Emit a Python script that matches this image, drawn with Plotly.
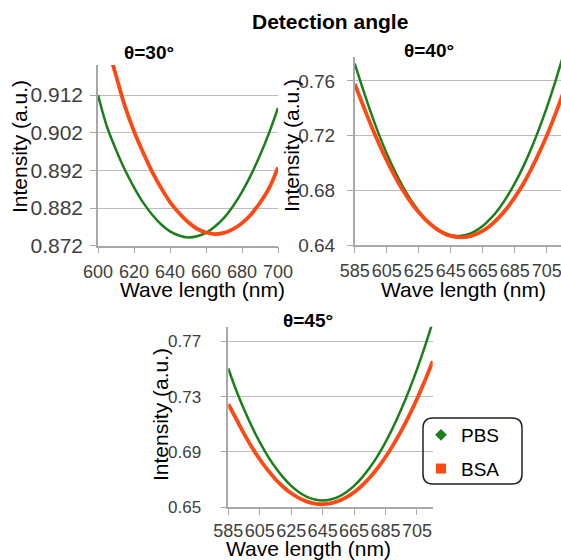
import plotly.graph_objects as go

# ---------------- data ----------------
# θ = 30°
wl30_pbs = [600, 605, 610, 615, 620, 625, 630, 635, 640, 645, 650, 655, 660, 665, 670, 675, 680, 685, 690, 695, 700]
int30_pbs = [0.9120, 0.9036, 0.8975, 0.8921, 0.8875, 0.8835, 0.8803, 0.8777, 0.8758, 0.8747, 0.8742,
             0.8745, 0.8754, 0.8771, 0.8794, 0.8825, 0.8863, 0.8908, 0.8960, 0.9019, 0.9086]
wl30_bsa = [608, 610, 615, 620, 625, 630, 635, 640, 645, 650, 655, 660, 665, 670, 675, 680, 685, 690, 695, 700]
int30_bsa = [0.9205, 0.9172, 0.9090, 0.9024, 0.8968, 0.8917, 0.8874, 0.8836, 0.8807, 0.8783, 0.8765,
             0.8755, 0.8751, 0.8754, 0.8764, 0.8780, 0.8803, 0.8834, 0.8872, 0.8928]

# θ = 40°
wl40 = [585, 590, 595, 600, 605, 610, 615, 620, 625, 630, 635, 640, 645, 650, 655,
        660, 665, 670, 675, 680, 685, 690, 695, 700, 705, 710, 715]
int40_pbs = [0.7727, 0.7546, 0.7372, 0.7213, 0.7070, 0.6942, 0.6829, 0.6731, 0.6649, 0.6582, 0.6530,
             0.6494, 0.6472, 0.6466, 0.6475, 0.6500, 0.6539, 0.6594, 0.6664, 0.6750, 0.6850, 0.6966,
             0.7097, 0.7244, 0.7405, 0.7582, 0.7775]
int40_bsa = [0.7578, 0.7428, 0.7282, 0.7146, 0.7018, 0.6904, 0.6802, 0.6714, 0.6639, 0.6576, 0.6527,
             0.6490, 0.6467, 0.6457, 0.6459, 0.6475, 0.6503, 0.6545, 0.6600, 0.6667, 0.6748, 0.6841,
             0.6948, 0.7068, 0.7200, 0.7346, 0.7504]

# θ = 45°
wl45 = [585, 590, 595, 600, 605, 610, 615, 620, 625, 630, 635, 640, 645, 650, 655,
        660, 665, 670, 675, 680, 685, 690, 695, 700, 705, 710, 715]
int45_pbs = [0.7503, 0.7346, 0.7208, 0.7083, 0.6971, 0.6872, 0.6787, 0.6714, 0.6655, 0.6609, 0.6576,
             0.6557, 0.6550, 0.6557, 0.6576, 0.6609, 0.6655, 0.6714, 0.6787, 0.6872, 0.6971, 0.7083,
             0.7208, 0.7346, 0.7497, 0.7661, 0.7839]
int45_bsa = [0.7245, 0.7140, 0.7032, 0.6934, 0.6847, 0.6770, 0.6703, 0.6647, 0.6601, 0.6566, 0.6541,
             0.6526, 0.6522, 0.6528, 0.6545, 0.6572, 0.6609, 0.6657, 0.6715, 0.6784, 0.6863, 0.6953,
             0.7052, 0.7163, 0.7283, 0.7414, 0.7556]

x_ticks_30 = [600, 620, 640, 660, 680, 700]
y_ticks_30 = [0.872, 0.882, 0.892, 0.902, 0.912]
x_ticks_wide = [585, 605, 625, 645, 665, 685, 705]
y_ticks_40 = [0.64, 0.68, 0.72, 0.76]
y_ticks_45 = [0.65, 0.69, 0.73, 0.77]

series_names = ["PBS", "BSA"]
panel_titles = ["θ=30°", "θ=40°", "θ=45°"]
main_title = "Detection angle"
x_title = "Wave length (nm)"
y_title = "Intensity (a.u.)"

# ---------------- styling ----------------
W, H = 561, 560
GREEN = "#1b7f1b"
RED = "#ff4813"
FONT = "Liberation Sans, Arial, sans-serif"
GRID = "#bdbdbd"
AXL = "#a8a8a8"
TICKC = "#404040"


def px_x(p):
    return p / W


def px_y(p):
    return 1 - p / H


fig = go.Figure()

line_g = dict(color=GREEN, width=2.5, shape="spline")
line_r = dict(color=RED, width=3.8, shape="spline")
fig.add_trace(go.Scatter(x=wl30_pbs, y=int30_pbs, mode="lines", line=line_g, xaxis="x", yaxis="y", showlegend=False))
fig.add_trace(go.Scatter(x=wl30_bsa, y=int30_bsa, mode="lines", line=line_r, xaxis="x", yaxis="y", showlegend=False))
fig.add_trace(go.Scatter(x=wl40, y=int40_pbs, mode="lines", line=line_g, xaxis="x2", yaxis="y2", showlegend=False))
fig.add_trace(go.Scatter(x=wl40, y=int40_bsa, mode="lines", line=line_r, xaxis="x2", yaxis="y2", showlegend=False))
fig.add_trace(go.Scatter(x=wl45, y=int45_pbs, mode="lines", line=line_g, xaxis="x3", yaxis="y3", showlegend=False))
fig.add_trace(go.Scatter(x=wl45, y=int45_bsa, mode="lines", line=line_r, xaxis="x3", yaxis="y3", showlegend=False))

# legend-only entries
fig.add_trace(go.Scatter(x=[None], y=[None], mode="markers", name=series_names[0], legendgroup="a",
                         marker=dict(symbol="diamond", color=GREEN, size=9), xaxis="x3", yaxis="y3"))
fig.add_trace(go.Scatter(x=[None], y=[None], mode="markers", name=series_names[1], legendgroup="b",
                         marker=dict(symbol="square", color=RED, size=10), xaxis="x3", yaxis="y3"))


def xaxis(domain, rng, ticks, anchor, standoff):
    return dict(domain=domain, range=rng, tickvals=ticks, ticktext=[str(t) for t in ticks], anchor=anchor,
                showline=True, linecolor=AXL, linewidth=1.5, ticks="outside", ticklen=6, tickcolor=AXL,
                showgrid=False, zeroline=False, tickfont=dict(family=FONT, size=18, color=TICKC),
                ticklabelstandoff=standoff, tickangle=0, ticklabeloverflow="allow",
                automargin=False, fixedrange=True)


def yaxis(domain, rng, ticks, fmt, anchor, standoff, size):
    return dict(domain=domain, range=rng, tickvals=ticks, ticktext=[fmt.format(t) for t in ticks], anchor=anchor,
                showline=True, linecolor=AXL, linewidth=1.5, ticks="outside", ticklen=6, tickcolor=AXL,
                showgrid=True, gridcolor=GRID, gridwidth=1, zeroline=False,
                tickfont=dict(family=FONT, size=size, color=TICKC), ticklabelstandoff=standoff,
                ticklabeloverflow="allow", automargin=False, fixedrange=True)


fig.update_layout(
    width=W, height=H,
    margin=dict(l=0, r=0, t=0, b=0, autoexpand=False),
    paper_bgcolor="white", plot_bgcolor="white",
    font=dict(family=FONT, color="#000"),
    xaxis=xaxis([px_x(98), px_x(278)], [600, 700], x_ticks_30, "y", 3),
    yaxis=yaxis([px_y(245.7), px_y(65)], [0.872, 0.920], y_ticks_30, "{:.3f}", "x", 3, 21),
    xaxis2=xaxis([px_x(354.7), 1.0], [585, 713.9], x_ticks_wide, "y2", 3),
    yaxis2=yaxis([px_y(245), px_y(57)], [0.64, 0.7775], y_ticks_40, "{:.2f}", "x2", 8, 19),
    xaxis3=xaxis([px_x(228.3), px_x(432.7)], [585, 715], x_ticks_wide, "y3", 0),
    yaxis3=yaxis([px_y(507.3), px_y(326.7)], [0.65, 0.7805], y_ticks_45, "{:.2f}", "x3", 16, 17),
    legend=dict(x=px_x(421), y=px_y(416), xanchor="left", yanchor="top", bgcolor="rgba(0,0,0,0)",
                borderwidth=0, font=dict(family=FONT, size=19, color="#000"), tracegroupgap=6,
                itemwidth=30),
)

# rounded legend frame
x0, x1 = px_x(423), px_x(522)
yt, yb = px_y(418), px_y(484)
rx, ry = 10 / W, 10 / H
path = (f"M {x0+rx},{yt} L {x1-rx},{yt} Q {x1},{yt} {x1},{yt-ry} L {x1},{yb+ry} Q {x1},{yb} {x1-rx},{yb} "
        f"L {x0+rx},{yb} Q {x0},{yb} {x0},{yb+ry} L {x0},{yt-ry} Q {x0},{yt} {x0+rx},{yt} Z")
fig.add_shape(type="path", path=path, xref="paper", yref="paper", line=dict(color="#222", width=1.5),
              fillcolor="rgba(0,0,0,0)")

annotations = []
annotations.append(dict(text=f"<b>{main_title}</b>", x=px_x(330), y=px_y(22), font=dict(size=21)))
for t, cx, cy in zip(panel_titles, [149, 429, 307.5], [52, 50, 320]):
    annotations.append(dict(text=f"<b>{t}</b>", x=px_x(cx), y=px_y(cy), font=dict(size=19)))
for cx, cy in [(202, 289), (463.5, 289), (308, 548)]:
    annotations.append(dict(text=x_title, x=px_x(cx), y=px_y(cy), font=dict(size=21)))
for cx, cy in [(20, 147), (292, 146), (160, 415)]:
    annotations.append(dict(text=y_title, x=px_x(cx), y=px_y(cy), textangle=-90, font=dict(size=21)))

for a in annotations:
    a.update(xref="paper", yref="paper", showarrow=False, xanchor="center", yanchor="middle")
    a["font"].update(family=FONT, color="#000")
fig.update_layout(annotations=annotations)

fig.write_html("out.html", config={"displayModeBar": False},
               post_script="document.body.style.margin='0';document.body.style.padding='0';")
